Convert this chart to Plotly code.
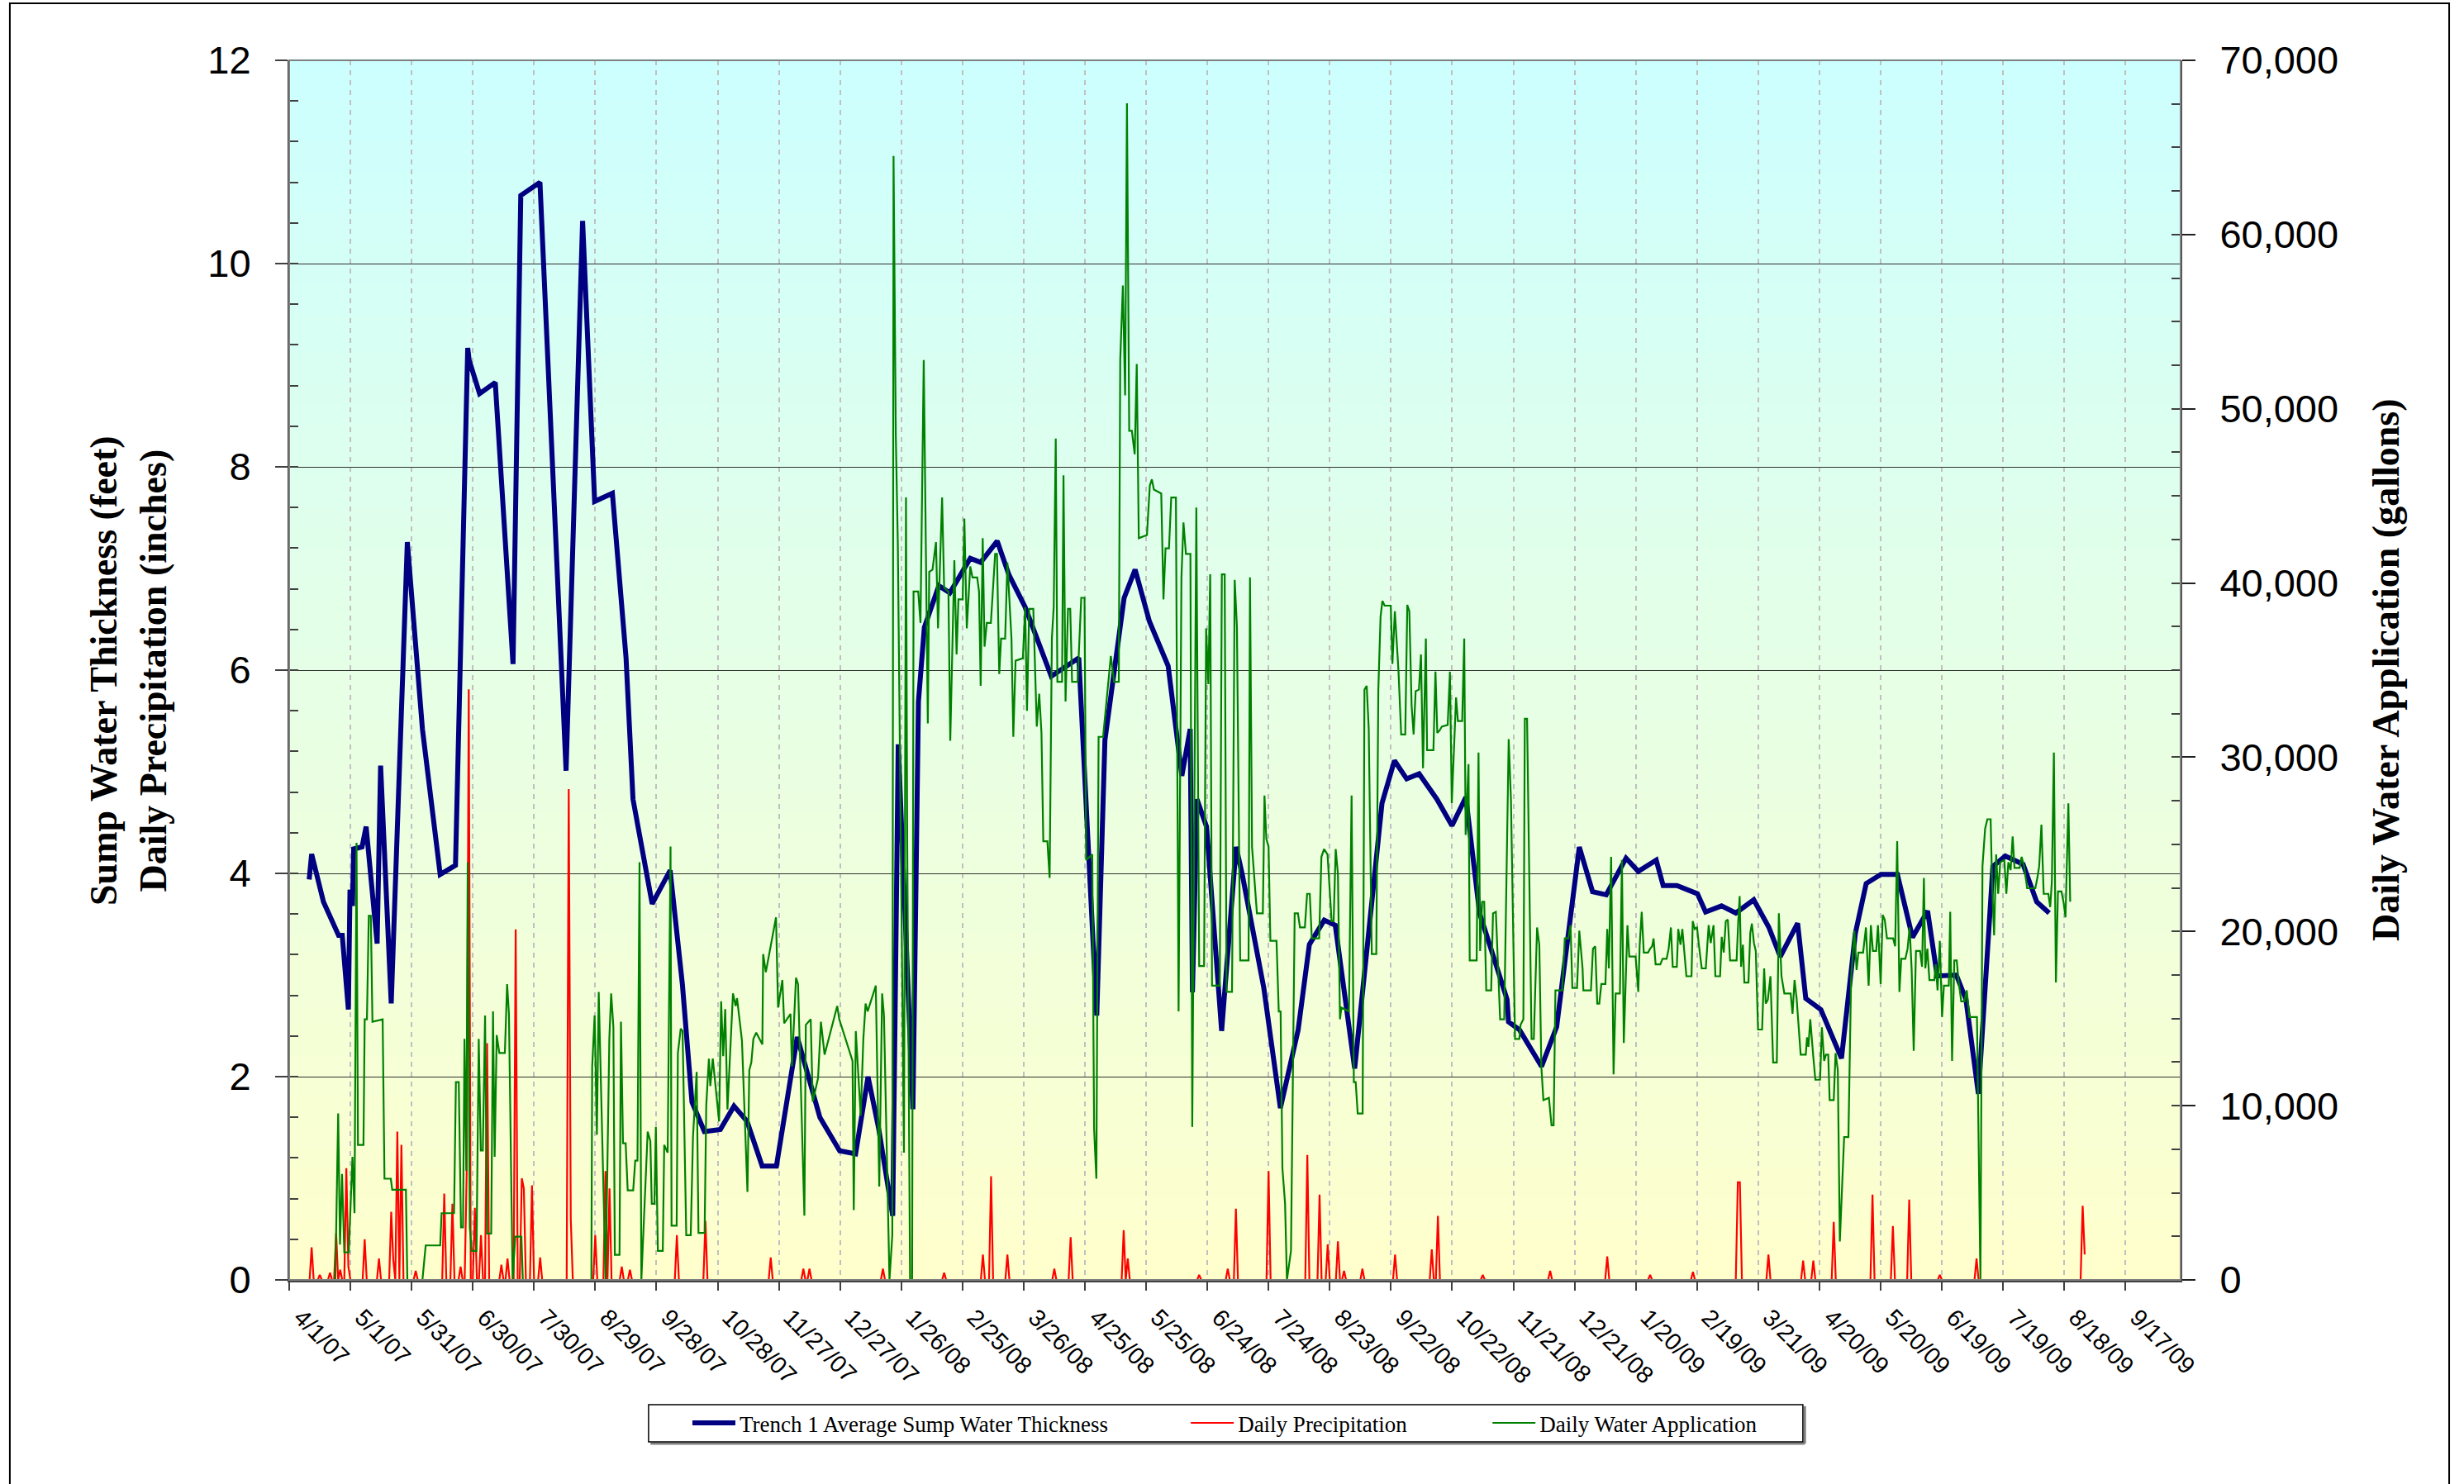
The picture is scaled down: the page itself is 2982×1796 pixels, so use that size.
import pandas as pd
import plotly.graph_objects as go

start = pd.Timestamp("2007-04-01")
axis_days = 927  # x axis runs from 4/1/07 to about 10/14/09

# Trench 1 average sump water thickness (feet), days counted from 4/1/07
sump_day = [9.8, 11.0, 16.8, 24.2, 26.0, 29.0, 29.8, 31.0, 31.6, 35.7, 37.7, 43.1, 44.8, 50.0,
            57.9, 65.3, 74.0, 81.5, 87.5, 88.2, 93.3, 101.0, 109.7, 113.5, 122.9, 135.7, 143.8,
            149.7, 158.4, 165.1, 168.5, 177.9, 186.7, 192.7, 197.4, 203.5, 211.3, 218.0, 224.4,
            231.8, 238.8, 249.0, 260.1, 269.8, 277.6, 283.7, 289.0, 295.8, 298.5, 305.7, 308.4,
            311.3, 318.4, 323.8, 333.8, 338.9, 347.0, 352.7, 360.7, 373.5, 387.0, 395.8, 399.8,
            409.2, 414.6, 421.6, 430.8, 437.5, 441.6, 442.7, 444.9, 449.6, 457.0, 464.1, 467.1,
            477.7, 485.8, 494.5, 500.0, 507.3, 512.7, 522.2, 535.6, 541.7, 547.7, 553.8, 562.5,
            569.9, 576.7, 583.4, 596.9, 597.6, 603.0, 613.8, 621.2, 632.3, 638.8, 645.5, 655.2,
            661.2, 670.0, 673.4, 680.1, 690.2, 694.2, 702.0, 709.0, 717.8, 725.2, 730.8, 739.3,
            743.3, 750.7, 760.8, 767.6, 772.9, 780.1, 788.2, 795.6, 803.0, 807.7, 817.1, 821.8,
            827.9, 835.0, 841.1, 849.8, 856.5, 862.6]
sump_ft = [3.94, 4.19, 3.72, 3.39, 3.39, 2.66, 3.84, 3.68, 4.24, 4.26, 4.46, 3.31, 5.06, 2.72,
           7.26, 5.42, 3.99, 4.08, 9.17, 9.05, 8.72, 8.83, 6.06, 10.67, 10.80, 5.01, 10.42,
           7.66, 7.74, 6.12, 4.73, 3.70, 4.03, 2.91, 1.75, 1.46, 1.48, 1.71, 1.56,
           1.12, 1.12, 2.39, 1.60, 1.27, 1.24, 2.00, 1.48, 0.63, 5.27, 1.68, 5.69,
           6.42, 6.83, 6.76, 7.10, 7.06, 7.27, 6.94, 6.62, 5.94, 6.12, 2.60, 5.31,
           6.71, 6.99, 6.48, 6.04, 4.96, 5.42, 2.83, 4.73, 4.46, 2.45, 4.26, 3.99,
           2.87, 1.69, 2.46, 3.30, 3.54, 3.49, 2.08, 4.69, 5.11, 4.93, 4.98, 4.73,
           4.47, 4.75, 3.61, 2.76, 2.54, 2.46, 2.10, 2.49, 4.26, 3.82, 3.79, 4.15,
           4.02, 4.13, 3.88, 3.88, 3.80, 3.62, 3.68, 3.61, 3.74, 3.47, 3.18, 3.51,
           2.77, 2.66, 2.18, 3.41, 3.90, 3.99, 3.99, 3.37, 3.63, 2.99, 3.00, 2.76,
           1.83, 4.07, 4.17, 4.09, 3.72, 3.61]

# Daily precipitation (inches): days with rain, every other day in the record is 0
precip_record_days = 880
precip_day = [11, 15, 20, 23, 25, 28, 29, 37, 44, 50, 51, 53, 55, 62, 76, 80, 84, 87, 88, 91, 94,
              97, 104, 107, 111, 114, 115, 119, 123, 137, 138, 150, 155, 157, 163, 167, 190, 204,
              236, 252, 255, 291, 321, 340, 344, 352, 375, 383, 409, 411, 446, 460, 464, 480,
              499, 505, 509, 514, 517, 526, 542, 560, 563, 585, 618, 646, 667, 688, 710, 711,
              725, 742, 747, 757, 776, 786, 794, 809, 827, 879, 880]
precip_in = [0.32, 0.05, 0.07, 0.46, 0.10, 1.10, 0.13, 0.40, 0.21, 0.67, 0.20, 1.46, 1.33, 0.09,
             0.85, 0.75, 0.13, 1.07, 5.81, 0.71, 0.44, 2.33, 0.15, 0.21, 3.45, 1.00, 0.90, 0.93,
             0.22, 4.83, 0.60, 0.44, 1.07, 0.90, 0.13, 0.10, 0.44, 0.58, 0.22, 0.11, 0.11, 0.11,
             0.07, 0.25, 1.02, 0.25, 0.11, 0.42, 0.49, 0.21, 0.05, 0.11, 0.70, 1.07, 1.23, 0.84,
             0.35, 0.38, 0.09, 0.11, 0.25, 0.30, 0.63, 0.05, 0.09, 0.23, 0.05, 0.08, 0.96, 0.96,
             0.25, 0.19, 0.19, 0.57, 0.84, 0.53, 0.79, 0.05, 0.21, 0.73, 0.25]

# Daily water application (gallons)
water_day = [
    22.6, 24.0, 24.9, 25.9, 27.0, 29.2, 31.0, 32.0, 33.0, 33.7, 36.4, 37.0, 38.1, 39.0, 40.0,
    40.8, 45.8, 46.7, 49.8, 50.5, 57.2, 57.9, 65.3, 66.9, 74.0, 74.7, 80.8, 81.7, 83.1, 84.2,
    85.2, 85.9, 86.8, 87.5, 88.5, 89.5, 91.8, 92.9, 93.9, 94.9, 96.0, 97.0, 99.0, 99.9, 100.7,
    101.7, 103.0, 105.7, 106.8, 107.7, 109.5, 110.8, 113.8, 114.5, 148.1, 148.5, 149.7, 150.8,
    151.7, 155.1, 156.9, 157.8, 158.9, 159.6, 161.9, 162.6, 163.6, 164.9, 165.9, 168.6, 169.6,
    170.7, 171.7, 172.6, 175.7, 177.0, 177.7, 179.0, 179.7, 180.7, 183.1, 183.8, 185.5, 186.9,
    187.4, 189.9, 190.5, 191.9, 192.8, 193.9, 194.6, 196.8, 197.9, 199.7, 200.6, 203.6, 204.4,
    205.7, 206.4, 207.6, 210.7, 211.7, 212.7, 213.7, 214.8, 217.5, 218.8, 219.5, 221.9, 224.6,
    225.5, 226.5, 227.5, 228.9, 231.9, 232.3, 233.6, 238.6, 239.6, 241.7, 242.6, 245.7, 246.4,
    248.4, 249.4, 252.5, 253.2, 255.6, 256.6, 259.2, 260.6, 262.4, 268.6, 269.6, 276.1, 276.7,
    277.7, 280.1, 281.4, 282.5, 283.5, 287.5, 289.2, 290.6, 291.5, 294.2, 295.6, 296.2, 297.3,
    298.3, 301.3, 302.3, 302.9, 304.3, 305.3, 306.0, 308.3, 309.4, 311.0,
    313.0, 313.7, 315.3, 317.0, 318.0, 320.0, 321.0, 323.1, 324.0, 326.0, 327.1, 328.0, 330.1,
    330.9, 332.1, 333.8, 334.9, 337.2, 338.1, 338.9, 339.9, 340.8, 341.9, 343.9, 346.0, 346.9,
    348.0, 348.9, 350.9, 352.0, 354.0, 354.9, 356.0, 359.6, 360.7, 361.6, 362.7, 364.7, 366.4,
    367.6, 368.7, 369.6, 371.6, 372.7, 373.8, 374.7, 375.7, 376.5, 378.8, 379.5, 380.5, 381.7,
    382.8, 383.7, 386.4, 388.2, 389.8, 390.6, 393.6, 394.5, 395.6, 396.7, 398.9, 400.7, 402.7,
    404.3, 406.6, 407.3, 408.6, 409.7, 410.6, 411.7, 413.0, 414.4, 415.4, 416.4, 420.4, 421.8,
    422.8, 423.8, 427.4, 428.5, 429.5, 431.2, 432.3, 434.6, 435.9, 437.3, 438.3, 439.5, 441.7,
    442.6, 444.6, 446.0, 448.4, 449.4, 450.5, 451.4, 452.3, 456.1, 457.1, 458.5, 459.4, 462.1,
    463.4, 464.5, 466.1,
    470.2, 470.9, 471.9, 474.3, 477.2, 478.0, 478.9, 480.0, 480.9, 483.9, 485.0, 485.9, 486.8,
    488.1, 489.0, 491.0, 492.8, 494.4, 495.4, 497.8, 498.9, 500.2, 501.2, 504.8, 505.9, 507.2,
    508.9, 510.9, 511.9, 512.9, 514.0, 515.0, 515.7, 519.4, 520.7, 521.8, 522.7, 523.7, 526.1,
    527.0, 528.1, 529.1, 530.6, 532.8, 533.8, 534.9, 535.8, 536.9, 539.9, 540.7, 541.9, 543.7,
    545.0, 547.0, 548.0, 549.0, 550.1, 551.1, 552.1, 553.7, 554.7, 555.7, 557.1, 557.7, 560.8,
    561.8, 562.7, 563.8, 564.9, 567.8, 568.9, 569.8, 571.9, 572.8, 574.9, 575.9, 576.6, 578.0,
    578.6, 582.0, 582.9, 583.7, 584.7, 585.7, 586.7, 589.1, 590.0, 591.4, 593.5, 595.5, 597.7,
    598.8, 600.8, 602.9, 603.5, 604.9, 605.6, 606.7, 608.9, 610.0, 610.7, 611.6, 612.7, 613.7,
    614.7, 617.4, 618.7, 619.7, 620.6,
    623.9, 625.2, 626.9, 628.0, 628.9, 631.2, 632.3, 633.9, 634.3, 638.0, 639.0, 640.1, 641.1,
    642.1, 643.1, 645.1, 646.0, 646.8, 647.9, 649.1, 650.1, 652.2, 653.2, 654.1, 655.9, 656.8,
    659.9, 661.2, 661.9, 662.9, 663.9, 666.0, 667.0, 668.0, 668.7, 669.7, 672.0, 673.1, 675.1,
    676.1, 677.2, 678.1, 680.1, 680.8, 681.9, 682.8, 684.8, 687.3, 687.9, 688.9, 690.0, 690.9,
    692.3, 694.3, 695.7, 696.7, 698.1, 699.0, 701.3, 702.1, 703.1, 704.1, 705.1, 706.2, 709.4,
    710.2, 710.9, 711.6, 712.5, 713.2, 715.2, 716.1, 716.9, 717.9, 718.8, 719.9, 721.9, 722.9,
    723.7, 724.7, 726.0, 727.3, 729.1, 730.1, 731.4, 732.8, 735.9, 736.8, 737.8, 738.8, 740.8,
    743.3, 743.9, 744.6, 745.5, 746.9, 748.0, 750.3, 751.2, 752.3, 753.2, 754.3, 755.0, 757.0,
    757.9, 759.0, 760.0, 762.1, 764.2, 765.5, 767.1, 768.2, 769.1, 771.4, 772.8, 774.1, 775.2,
    776.2, 777.8,
    778.7, 780.0, 781.0, 782.0, 783.1, 786.1, 787.1, 788.1, 789.2, 790.1, 792.1, 793.2, 794.2,
    795.2, 796.2, 797.3, 799.3, 800.3, 801.2, 801.9, 802.9, 803.9, 806.3, 807.0, 807.9, 809.0,
    810.1, 811.0, 813.4, 814.1, 815.0, 816.1, 817.3, 818.1, 819.5, 821.1, 822.2, 823.5, 827.2,
    828.1, 828.9, 829.9, 831.2, 832.3, 833.9, 834.6, 835.6, 836.6, 837.6, 838.6, 840.6, 841.6,
    842.6, 843.7, 844.7, 845.6, 848.1, 849.1, 850.3, 851.8, 855.8, 856.8, 857.7, 858.8, 859.9,
    862.2, 863.1, 863.9, 864.9, 865.9, 866.9, 868.6, 869.6, 870.6, 872.0, 872.9]
water_gal = [
    0, 9550, 2030, 6080, 1580, 1580, 7070, 3830, 25090, 7750, 7750, 14960, 14960, 20900, 20900,
    14820, 14960, 5810, 5810, 5180, 5180, 0, 0, 1980, 1980, 3830, 3830, 11350, 11350, 3020,
    3020, 13830, 6260, 23970, 3020, 1670, 1670, 13830, 7430, 7430, 15180, 2660, 2660, 15410, 7070,
    14050, 13020, 13020, 16980, 15270, 0, 2480, 2480, 0, 0, 12250, 15180, 8330,
    16530, 0, 13830, 16440, 14500, 1440, 1440, 14820, 7840, 7840, 5140, 5140, 6850,
    6850, 23970, 0, 8510, 7970, 4370, 4370, 8780, 1670, 1670, 7750, 7300, 24870,
    3110, 3110, 13020, 14420, 14280, 7970, 2570, 2570, 8200, 11940, 2700, 2700, 10000,
    12700, 11130, 12700, 9100, 15990, 12840, 15540, 9780, 16440, 15720, 16170, 13740, 5050,
    12030, 12480, 13830, 14190, 13520, 18700, 17660, 20810, 15630, 17210, 14730, 15270, 12250,
    17340, 16980, 3690, 14640, 14960, 10230, 11580, 14820, 12930, 15720, 14960, 12570, 4010,
    14280, 9420, 13830, 15860, 15410, 16890, 5360, 16440, 15180, 0, 2570, 64510, 48520,
    42210, 7300, 44910, 25090, 0, 0, 39510, 39510, 37710, 52800,
    31940, 40640, 40770, 42350, 37400, 44910, 39730, 39510, 30950, 41310, 35900, 39060, 39060,
    43700, 37400, 40950, 40320, 40320, 39510, 34100, 42570, 36350, 37710, 37710, 41670, 41670,
    34780, 36810, 36810, 41180, 36810, 31170, 35540, 35680, 38610, 32660, 38520, 38520, 31760,
    33650, 31400, 25180, 25180, 23070, 36810, 38610, 48290, 34330, 34330, 46180, 33200, 38520,
    38520, 34330, 34330, 39150, 39150, 24100, 24420, 8650, 5810, 31170, 31170, 33430, 35810,
    34330, 34330, 52800, 57080, 50770, 67530, 48740, 48740, 47390, 52570, 42570, 42750, 45590,
    45950, 45360, 45140, 39060, 41990, 41990, 44910, 44910, 15410, 40320, 43470, 41670, 41670,
    8780, 44330, 18020, 18020, 37400, 34190, 40500, 16890, 16890, 40500, 40500, 16530, 16530,
    40180, 37480, 18340,
    18340, 40320, 24870, 21040, 21040, 27800, 25320, 24870, 19460, 19460, 15410, 15410, 6400,
    4370, 0, 1670, 21040, 21040, 20230, 20230, 22160, 22160, 19600, 19600, 24280, 24730,
    24420, 20590, 20590, 24730, 23290, 14960, 15630, 15410, 27800, 11350, 11350, 9550, 9550,
    33880, 34100, 31630, 18700, 18700, 33880, 38070, 38970, 38700, 38700, 35360, 38380, 34910,
    31310, 31310, 38740, 38380, 32980, 31310, 33790, 33880, 35900, 29370, 36810, 30410, 30410,
    34910, 31400, 31530, 31760, 31850, 34910, 27350, 33430, 32080, 32080, 36810, 25540, 29600,
    18340, 18340, 30270, 18880, 21710, 21710, 16620, 16620, 21040, 21130, 14960, 14960, 31040,
    27570, 13830, 13830, 14640, 14960, 32210, 32210, 13830, 13830, 16620, 20230, 19240, 12250,
    10320, 10450, 8870, 8870, 16620,
    16620, 19600, 19600, 20360, 16760, 16760, 20050, 17880, 16620, 16620, 19010, 19150, 15860,
    15860, 16980, 16980, 20140, 17880, 24280, 11800, 16440, 16440, 24100, 13600, 20360, 18560,
    18560, 16530, 19240, 21130, 18790, 18790, 19010, 19150, 19600, 18110, 18110, 18430, 18430,
    19010, 20230, 17970, 17970, 20140, 19240, 20140, 17430, 17430, 20590, 20140, 20230, 19240,
    17880, 17880, 20360, 19330, 20360, 17430, 17430, 19690, 18790, 20590, 20680, 18340, 18340,
    20590, 22030, 17970, 19240, 17070, 17070, 19910, 20450, 19330, 18880, 14370, 14370, 17880,
    15860, 16080, 17430, 12480, 12480, 21040, 17430, 16440, 16440, 15270, 17210, 16170, 12930,
    12930, 13920, 13380, 14960, 12930, 11490, 11490, 14500, 12570, 12930, 12930, 10320, 10320,
    13020, 12030, 2210, 8200, 8200, 17210, 20050, 17790, 18790, 18790, 20230, 16890, 20360,
    18880, 18880,
    20360, 16980, 20950, 20680, 19600, 19600, 19150, 25180, 16530, 18430, 18430, 19010, 20230,
    17790, 13150, 18880, 18880, 17970, 23070, 17880, 19010, 17210, 17210, 18110, 16620, 19460,
    15090, 16890, 16890, 21130, 12570, 18340, 18340, 17210, 15990, 15990, 16620, 15090, 15090,
    7520, 0, 23740, 25900, 26440, 26440, 22840, 19780, 24420, 22160, 23970, 24100, 22160,
    23970, 23520, 25450, 23650, 23650, 24280, 23740, 22480, 22480, 23070, 23740, 26130, 22160,
    22160, 21400, 22840, 30270, 17070, 22300, 22300, 21710, 20810, 27350, 21710]


def to_dates(days):
    return start + pd.to_timedelta(pd.Series(days, dtype=float), unit="D")


precip_daily = [0.0] * (precip_record_days + 1)
for d, v in zip(precip_day, precip_in):
    precip_daily[d] = v

serif = "Liberation Serif, Times New Roman, serif"
sans = "Liberation Sans, Arial, sans-serif"

fig = go.Figure()
fig.add_trace(go.Scatter(x=to_dates(sump_day), y=sump_ft, mode="lines",
                         name="Trench 1 Average Sump Water Thickness",
                         line=dict(color="#000080", width=6), legend="legend"))
fig.add_trace(go.Scatter(x=to_dates(range(len(precip_daily))), y=precip_daily, mode="lines",
                         name="Daily Precipitation",
                         line=dict(color="#FF0000", width=2.2), legend="legend2"))
fig.add_trace(go.Scatter(x=to_dates(water_day), y=water_gal, mode="lines",
                         name="Daily Water Application", yaxis="y2",
                         line=dict(color="#008000", width=2.2), legend="legend3"))

# plot area gradient, pale yellow at the bottom to pale cyan at the top
shapes = []
bands = 120
for i in range(bands):
    t = (i + 0.5) / bands
    r = round(255 - 51 * t)
    b = round(204 + 51 * t)
    shapes.append(dict(type="rect", xref="paper", yref="paper", x0=0, x1=1,
                       y0=i / bands, y1=(i + 1) / bands + 0.001,
                       fillcolor=f"rgb({r},255,{b})", line=dict(width=0), layer="below"))

# plot area border and outer chart frame
shapes.append(dict(type="rect", xref="paper", yref="paper", x0=0, x1=1, y0=0, y1=1,
                   line=dict(color="#808080", width=2), layer="above"))
shapes.append(dict(type="rect", xref="paper", yref="paper", x0=-0.1477, x1=1.1420,
                   y0=-0.172, y1=1.0468, line=dict(color="black", width=2), layer="above"))
# legend box: shadow lines on the right and bottom, then the black frame
shapes.append(dict(type="line", xref="paper", yref="paper", x0=0.1910, x1=0.8013,
                   y0=-0.1342, y1=-0.1342, line=dict(color="#808080", width=3), layer="above"))
shapes.append(dict(type="line", xref="paper", yref="paper", x0=0.8013, x1=0.8013,
                   y0=-0.1342, y1=-0.1035, line=dict(color="#808080", width=3), layer="above"))
shapes.append(dict(type="rect", xref="paper", yref="paper", x0=0.1900, x1=0.8003,
                   y0=-0.1328, y1=-0.1023, line=dict(color="black", width=1.5), layer="above"))

leg = dict(orientation="h", xanchor="left", yanchor="middle", y=-0.1175,
           bgcolor="rgba(0,0,0,0)", borderwidth=0, itemwidth=52,
           font=dict(family=serif, size=27, color="black"))

title_font = dict(family=serif, size=46, color="black")
tick_font = dict(family=sans, size=47, color="black")

fig.update_layout(
    width=2982, height=1796,
    margin=dict(l=350, r=343, t=73, b=247),
    paper_bgcolor="white", plot_bgcolor="white",
    showlegend=True,
    shapes=shapes,
    legend=dict(leg, x=0.2110),
    legend2=dict(leg, x=0.4745),
    legend3=dict(leg, x=0.6340),
    xaxis=dict(type="date", range=[start, start + pd.Timedelta(days=axis_days)],
               tick0=start, dtick=30 * 86400000, tickformat="%-m/%-d/%y", tickangle=45,
               ticks="outside", ticklen=10, tickwidth=2, tickcolor="#404040",
               ticklabelstandoff=4, ticklabelshift=14,
               tickfont=dict(family=sans, size=29, color="black"),
               showgrid=True, gridcolor="#C0C0C0", griddash="6px,6px", gridwidth=1.5,
               showline=True, linecolor="#404040", linewidth=3, zeroline=False),
    yaxis=dict(range=[0, 12], dtick=2, ticks="outside", ticklen=15, tickwidth=2,
               tickcolor="#404040", ticklabelstandoff=20, tickfont=tick_font,
               minor=dict(dtick=0.4, ticks="inside", ticklen=11, tickwidth=2,
                          tickcolor="#404040", showgrid=False),
               showgrid=True, gridcolor="#303030", gridwidth=1,
               showline=True, linecolor="#404040", linewidth=2, zeroline=False),
    yaxis2=dict(overlaying="y", side="right", range=[0, 70000], dtick=10000, tickformat=",",
                ticks="outside", ticklen=16, tickwidth=2, tickcolor="#202020",
                ticklabelstandoff=20, tickfont=tick_font,
                minor=dict(dtick=2500, ticks="inside", ticklen=11, tickwidth=2,
                           tickcolor="#404040"),
                showgrid=False, showline=True, linecolor="#404040", linewidth=2,
                zeroline=False),
    annotations=[
        dict(text="<b>Sump Water Thickness (feet)<br>Daily Precipitation (inches)</b>",
             xref="paper", yref="paper", x=-0.0852, y=0.5, xanchor="center",
             yanchor="middle", textangle=-90, showarrow=False, font=title_font),
        dict(text="<b>Daily Water Application (gallons)</b>",
             xref="paper", yref="paper", x=1.1083, y=0.5, xanchor="center",
             yanchor="middle", textangle=-90, showarrow=False, font=title_font),
    ],
)

fig.write_html("out.html", config={"displayModeBar": False},
               post_script="document.body.style.margin = '0';")
